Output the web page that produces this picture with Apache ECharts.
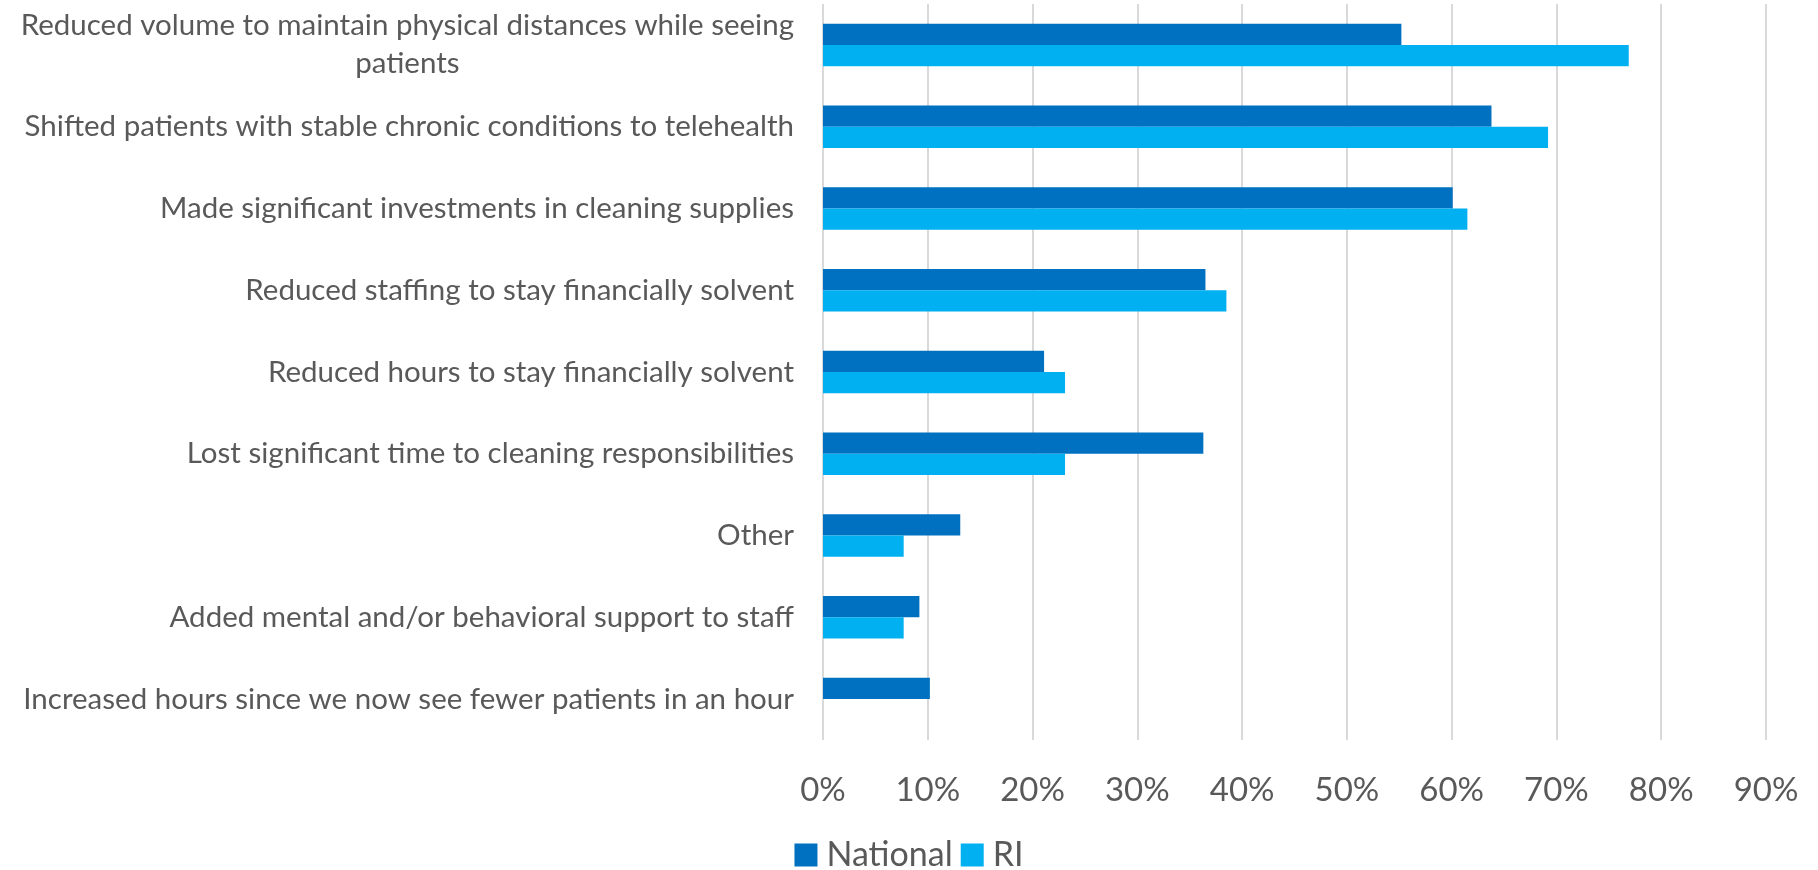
<!DOCTYPE html>
<html>
<head>
<meta charset="utf-8">
<script src="https://cdn.jsdelivr.net/npm/echarts@6/dist/echarts.min.js"></script>
<style>
html,body{margin:0;padding:0;background:#fff;}
#chart{width:1818px;height:870px;}
</style>
</head>
<body>
<div id="chart"></div>
<script>
const categories = [
  "Reduced volume to maintain physical distances while seeing\npatients",
  "Shifted patients with stable chronic conditions to telehealth",
  "Made significant investments in cleaning supplies",
  "Reduced staffing to stay financially solvent",
  "Reduced hours to stay financially solvent",
  "Lost significant time to cleaning responsibilities",
  "Other",
  "Added mental and/or behavioral support to staff",
  "Increased hours since we now see fewer patients in an hour"
];
const nationalValues = [55.2, 63.8, 60.1, 36.5, 21.1, 36.3, 13.1, 9.2, 10.2];
const riValues = [76.9, 69.2, 61.5, 38.5, 23.1, 23.1, 7.7, 7.7, 0];
const seriesNames = ["National", "RI"];
const xTicks = [0, 10, 20, 30, 40, 50, 60, 70, 80, 90];

const FONT = "Lato";
const TEXT = "#595959";
const chart = echarts.init(document.getElementById('chart'));
chart.setOption({
  animation: false,
  textStyle: {fontFamily: FONT},
  legend: {
    data: seriesNames,
    bottom: -7,
    left: 'center',
    itemWidth: 23,
    itemHeight: 23,
    itemGap: 8,
    icon: 'rect',
    textStyle: {color: TEXT, fontSize: 34, fontFamily: FONT, padding: [0, 0, 0, 4]}
  },
  grid: {left: 823, right: 52, top: 4, bottom: 130, containLabel: false},
  xAxis: {
    type: 'value',
    min: xTicks[0],
    max: xTicks[xTicks.length - 1],
    interval: 10,
    axisLine: {show: false},
    axisTick: {show: false},
    splitLine: {show: true, lineStyle: {color: '#D9D9D9', width: 2}},
    axisLabel: {
      color: TEXT, fontSize: 33, fontFamily: FONT, margin: 34,
      formatter: '{value}%'
    }
  },
  yAxis: {
    type: 'category',
    inverse: true,
    data: categories,
    axisLine: {show: false},
    axisTick: {show: false},
    axisLabel: {
      color: TEXT, fontSize: 29.5, fontFamily: FONT, margin: 29, align: 'right',
      lineHeight: 38,
      formatter: function (v) {
        return v.split('\n').map(function (s) { return '{c|' + s + '}'; }).join('\n');
      },
      rich: {c: {align: 'center', color: TEXT, fontSize: 29.5, fontFamily: FONT, lineHeight: 38}}
    }
  },
  series: [
    {
      name: seriesNames[0], type: 'bar', data: nationalValues,
      itemStyle: {color: '#0070C0'},
      barGap: '0%', barCategoryGap: '48%'
    },
    {
      name: seriesNames[1], type: 'bar', data: riValues,
      itemStyle: {color: '#00B0F0'},
      barGap: '0%', barCategoryGap: '48%'
    }
  ]
});
</script>
</body>
</html>
